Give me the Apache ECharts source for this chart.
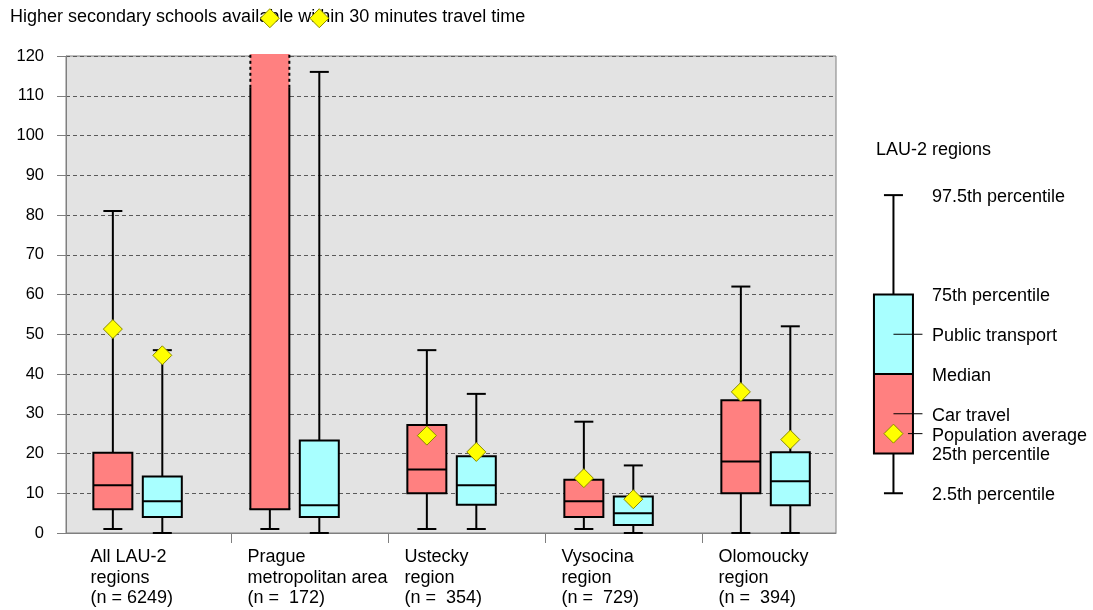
<!DOCTYPE html>
<html><head><meta charset="utf-8">
<script src="https://cdn.jsdelivr.net/npm/echarts@6/dist/echarts.min.js"></script>
<style>html,body{margin:0;padding:0;background:#fff}#c{width:1093px;height:610px}</style>
</head><body><div id="c"></div>
<script>
// ---------- data ----------
const categories = [
  'All LAU-2\nregions\n(n = 6249)',
  'Prague\nmetropolitan area\n(n =  172)',
  'Ustecky\nregion\n(n =  354)',
  'Vysocina\nregion\n(n =  729)',
  'Olomoucky\nregion\n(n =  394)'
];
// each row: [2.5th pct, 25th pct, median, 75th pct, 97.5th pct, population average]
const carTravel = [
  [1, 6, 12, 20.2, 81, 51.3],
  [1, 6, 125, 170, 300, 129.5],
  [1, 10, 16, 27.2, 46, 24.5],
  [1, 4, 8, 13.4, 28, 13.8],
  [0, 10, 18, 33.4, 62, 35.5]
];
const publicTransport = [
  [0, 4, 8, 14.2, 46, 44.7],
  [0, 4, 7, 23.3, 116, 129.5],
  [1, 7.1, 12, 19.3, 35, 20.4],
  [0, 2, 5, 9.2, 17, 8.5],
  [0, 7, 13, 20.3, 52, 23.5]
];
const yMin = 0, yMax = 120, yInterval = 10;
// legend key box: [2.5th, 25th, median, 75th, 97.5th, average]
const legendKey = [10, 20, 40, 60, 85, 25];
const legendLabels = [
  ['97.5th percentile', 85], ['75th percentile', 60], ['Public transport', 50],
  ['Median', 40], ['Car travel', 30], ['Population average', 25],
  ['25th percentile', 20], ['2.5th percentile', 10]
];
const legendPointers = [50, 30, 25];

// ---------- style ----------
const FONT = 'Arial, "Liberation Sans", sans-serif';
const TXT = 18;
const CAR = '#ff8080', PT = '#a8ffff', DIAM = '#ffff00';
const BOX_W = 39, CAP_W = 19, DIAM_R = 9.5;
const BREAK_VAL = 112; // overflowed box drawn dotted above this value

function diamond(cx, cy) {
  return {type: 'polygon', z2: 20, shape: {points: [[cx, cy - DIAM_R], [cx + DIAM_R, cy], [cx, cy + DIAM_R], [cx - DIAM_R, cy]]},
    style: {fill: DIAM, stroke: '#8a8a00', lineWidth: 1}};
}
function line(x1, y1, x2, y2, w, dash) {
  return {type: 'line', shape: {x1, y1, x2, y2}, style: {stroke: '#000', lineWidth: w || 2, lineDash: dash || null}};
}

function boxRender(color, frac) {
  return function (params, api) {
    const i = api.value(0);
    const lo = api.value(1), q1 = api.value(2), med = api.value(3), q3 = api.value(4), hi = api.value(5), avg = api.value(6);
    const band = api.size([1, 0])[0];
    const cx = api.coord([i, 0])[0] + band * frac;
    const y = v => api.coord([i, v])[1];
    const L = cx - BOX_W / 2, R = cx + BOX_W / 2;
    const ch = [];
    ch.push(line(cx, y(lo), cx, y(q1)));
    ch.push(line(cx - CAP_W / 2, y(lo), cx + CAP_W / 2, y(lo)));
    if (q3 <= yMax) {
      ch.push(line(cx, y(q3), cx, y(Math.min(hi, yMax))));
      if (hi <= yMax) ch.push(line(cx - CAP_W / 2, y(hi), cx + CAP_W / 2, y(hi)));
      ch.push({type: 'rect', shape: {x: L, y: y(q3), width: BOX_W, height: y(q1) - y(q3)},
        style: {fill: color, stroke: '#000', lineWidth: 2}});
    } else {
      const top = y(yMax) - 2;
      ch.push({type: 'rect', shape: {x: L, y: top, width: BOX_W, height: y(q1) - top}, style: {fill: color}});
      ch.push(line(L - 1, y(q1), R + 1, y(q1)));
      ch.push(line(L, y(q1), L, y(BREAK_VAL)));
      ch.push(line(R, y(q1), R, y(BREAK_VAL)));
      ch.push(line(L, y(BREAK_VAL), L, top, 2, [3, 3]));
      ch.push(line(R, y(BREAK_VAL), R, top, 2, [3, 3]));
    }
    if (med <= yMax) ch.push(line(L, y(med), R, y(med)));
    ch.push(diamond(cx, y(avg)));
    return {type: 'group', children: ch};
  };
}

function legendRender(params, api) {
  const band = api.size([1, 0])[0];
  const cx = api.coord([5, 0])[0] + band * 0.215;
  const y = v => api.coord([5, v])[1];
  const [lo, q1, med, q3, hi, avg] = legendKey;
  const L = cx - BOX_W / 2, R = cx + BOX_W / 2;
  const ch = [];
  ch.push(line(cx, y(lo), cx, y(q1)));
  ch.push(line(cx, y(q3), cx, y(hi)));
  ch.push(line(cx - CAP_W / 2, y(lo), cx + CAP_W / 2, y(lo)));
  ch.push(line(cx - CAP_W / 2, y(hi), cx + CAP_W / 2, y(hi)));
  ch.push({type: 'rect', shape: {x: L, y: y(med), width: BOX_W, height: y(q1) - y(med)}, style: {fill: CAR}});
  ch.push({type: 'rect', shape: {x: L, y: y(q3), width: BOX_W, height: y(med) - y(q3)}, style: {fill: PT}});
  ch.push({type: 'rect', shape: {x: L, y: y(q3), width: BOX_W, height: y(q1) - y(q3)}, style: {fill: null, stroke: '#000', lineWidth: 2}});
  ch.push(line(L, y(med), R, y(med)));
  legendPointers.forEach((v) => {
    const start = (v === avg) ? cx + DIAM_R + 5 : cx;
    ch.push(line(start, y(v), cx + 29, y(v), 1));
  });
  ch.push(diamond(cx, y(avg)));
  legendLabels.forEach(([t, v]) => {
    ch.push({type: 'text', style: {text: t, x: cx + 38.5, y: y(v) + 2, align: 'left', verticalAlign: 'middle',
      fill: '#000', fontSize: TXT, fontFamily: FONT}});
  });
  return {type: 'group', children: ch};
}

const chart = echarts.init(document.getElementById('c'), null, {renderer: 'canvas'});
chart.setOption({
  animation: false,
  backgroundColor: '#fff',
  title: [
    {text: 'Higher secondary schools available within 30 minutes travel time', left: 10, top: 8, padding: 0,
      textStyle: {fontSize: TXT, fontWeight: 'normal', color: '#000', fontFamily: FONT, lineHeight: 18}},
    {text: 'LAU-2 regions', left: 876, top: 141, padding: 0,
      textStyle: {fontSize: TXT, fontWeight: 'normal', color: '#000', fontFamily: FONT, lineHeight: 18}}
  ],
  grid: [
    {left: 66, top: 56, width: 770, height: 477, show: true, backgroundColor: '#e3e3e3', borderColor: '#7f7f7f', borderWidth: 1},
    {left: 74.7, top: 56, width: 785, height: 477}
  ],
  xAxis: [
    {gridIndex: 0, type: 'value', min: 0, max: 1, axisLine: {show: true, lineStyle: {color: '#7f7f7f'}},
      axisTick: {show: false}, axisLabel: {show: false}, splitLine: {show: false}},
    {gridIndex: 1, type: 'value', min: 0, max: 5, axisLine: {show: false}, splitLine: {show: false},
      axisTick: {show: true, length: 10, customValues: [1, 2, 3, 4], lineStyle: {color: '#7f7f7f'}},
      axisLabel: {show: true, customValues: [0.1, 1.1, 2.1, 3.1, 4.1], align: 'left', verticalAlign: 'top', margin: 14,
        lineHeight: 20.5, fontSize: TXT, color: '#000', fontFamily: FONT,
        formatter: v => categories[Math.floor(v + 1e-6)] || ''}}
  ],
  yAxis: [
    {gridIndex: 0, type: 'value', min: yMin, max: yMax, interval: yInterval,
      axisLine: {show: true, lineStyle: {color: '#7f7f7f'}},
      axisTick: {show: true, length: 9, lineStyle: {color: '#7f7f7f'}},
      axisLabel: {fontSize: 16.5, color: '#000', fontFamily: FONT, margin: 22},
      splitLine: {show: true, lineStyle: {color: '#5a5a5a', type: [4, 3], width: 1}}},
    {gridIndex: 1, type: 'value', min: yMin, max: yMax, show: false, splitLine: {show: false}}
  ],
  series: [
    {type: 'custom', name: 'Car travel', xAxisIndex: 1, yAxisIndex: 1, clip: false, z: 10,
      renderItem: boxRender(CAR, 0.243), data: carTravel.map((r, i) => [i, ...r])},
    {type: 'custom', name: 'Public transport', xAxisIndex: 1, yAxisIndex: 1, clip: false, z: 10,
      renderItem: boxRender(PT, 0.558), data: publicTransport.map((r, i) => [i, ...r])},
    {type: 'custom', name: 'Legend', xAxisIndex: 1, yAxisIndex: 1, clip: false, z: 10,
      renderItem: legendRender, data: [[0, 0]]}
  ]
});
</script></body></html>
